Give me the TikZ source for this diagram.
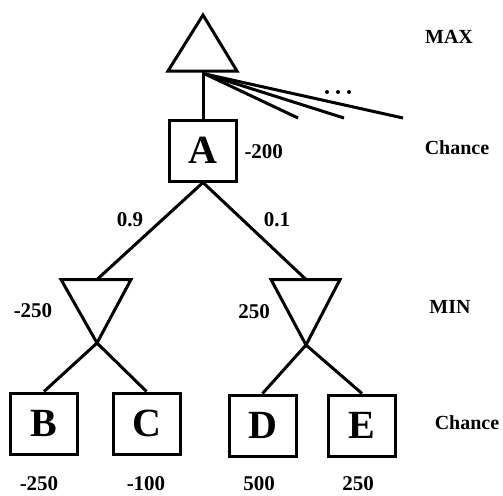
\documentclass[tikz,border=0pt]{standalone}
\usepackage{fontspec}
\setmainfont{Liberation Serif}
\begin{document}
\begin{tikzpicture}[x=1pt,y=-1pt,line width=3pt,line join=miter,
  box/.style={draw,minimum width=67pt,minimum height=61pt,inner sep=0pt,
    font=\bfseries\fontsize{40}{40}\selectfont},
  val/.style={font=\bfseries\fontsize{21}{21}\selectfont,inner sep=0pt},
  lvl/.style={font=\bfseries\fontsize{20}{20}\selectfont,inner sep=0pt},
  dot/.style={circle,fill,inner sep=0pt,minimum size=4pt}]
\useasboundingbox (0,0) rectangle (503,495);

% MAX node (upward triangle)
\coordinate (maxtop) at (203,15);
\coordinate (maxl) at (168,71);
\coordinate (maxr) at (237,71);
\coordinate (maxb) at (203,71);
\draw (maxtop) -- (maxl) -- (maxr) -- cycle;

% other MAX branches
\coordinate (fan) at (205,74);
\coordinate (f1) at (298,118);
\coordinate (f2) at (344,118);
\coordinate (f3) at (403,118);
\draw (fan) -- (f1);
\draw (fan) -- (f2);
\draw (fan) -- (f3);
\node[dot] (d1) at (327,92) {};
\node[dot] (d2) at (338,92) {};
\node[dot] (d3) at (349,92) {};

% chance node A
\node[box] (A) at (203,150.5) {A};
\node[val,anchor=west] (vA) at (243,152) {-200};
\draw (maxb) -- (A.north);

% MIN nodes (downward triangles)
\coordinate (m1l) at (61,279.5);
\coordinate (m1r) at (131,279.5);
\coordinate (m1t) at (97,279.5);
\coordinate (m1b) at (97,343);
\draw (m1l) -- (m1r) -- (m1b) -- cycle;
\coordinate (m2l) at (271,279.5);
\coordinate (m2r) at (340,279.5);
\coordinate (m2t) at (306,279.5);
\coordinate (m2b) at (306,345);
\draw (m2l) -- (m2r) -- (m2b) -- cycle;

\draw (A.south) -- (m1t);
\draw (A.south) -- (m2t);
\node[val] (p1) at (130,220) {0.9};
\node[val] (p2) at (277,220) {0.1};
\node[val] (v1) at (33,311) {-250};
\node[val] (v2) at (254,312) {250};

% leaf chance nodes
\node[box] (B) at (44,423.5) {B};
\node[box] (C) at (146.5,423.5) {C};
\node[box] (D) at (262.5,425.5) {D};
\node[box] (E) at (362,425.5) {E};
\draw (m1b) -- (B.north);
\draw (m1b) -- (C.north);
\draw (m2b) -- (D.north);
\draw (m2b) -- (E.north);

\node[val] (vB) at (39,484) {-250};
\node[val] (vC) at (146,484) {-100};
\node[val] (vD) at (259,484) {500};
\node[val] (vE) at (358,484) {250};

% level labels
\node[lvl] (lmax) at (449,37) {MAX};
\node[lvl] (lch1) at (457,148) {Chance};
\node[lvl] (lmin) at (450,307) {MIN};
\node[lvl] (lch2) at (467,423) {Chance};
\end{tikzpicture}
\end{document}
